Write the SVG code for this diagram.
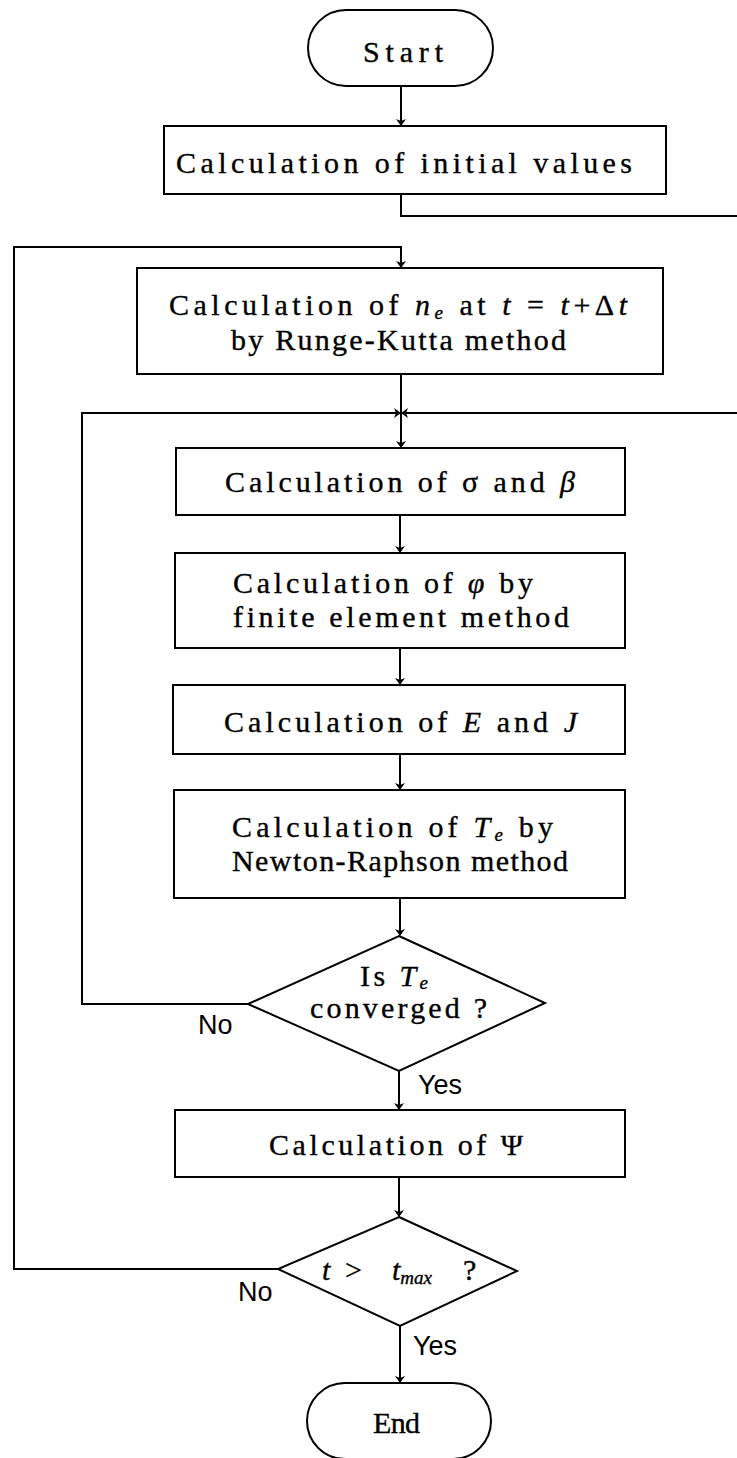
<svg xmlns="http://www.w3.org/2000/svg" width="737" height="1458" viewBox="0 0 737 1458">
<defs>
<style>
.n{fill:#fff;stroke:#000;stroke-width:2}
.c{fill:none;stroke:#000;stroke-width:2}
.t{font-family:"Liberation Serif","Times New Roman",serif;font-size:30px;fill:#000;stroke:#000;stroke-width:0.35}
.i{font-style:italic}
.s{font-style:italic;font-size:19px}
.l{font-family:"Liberation Sans",Arial,sans-serif;font-size:27px;fill:#000}
</style>
<marker id="ah" markerWidth="8" markerHeight="12" refX="6" refY="6" orient="auto" markerUnits="userSpaceOnUse" viewBox="0 0 8 12">
<path d="M0,1 L7,6 L0,11 L2,6 Z" fill="#000"/>
</marker>
</defs>
<rect width="737" height="1458" fill="#fff"/>
<g id="connectors">
<path class="c" d="M401,86 V125" marker-end="url(#ah)"/>
<path class="c" d="M401,194 V216 H737"/>
<path class="c" d="M278,1269 H14 V247 H401 V267" marker-end="url(#ah)"/>
<path class="c" d="M401,374 V413"/>
<path class="c" d="M737,413 H402" marker-end="url(#ah)"/>
<path class="c" d="M248,1004 H82 V413 H400" marker-end="url(#ah)"/>
<path class="c" d="M401,413 V447" marker-end="url(#ah)"/>
<path class="c" d="M400,515 V552" marker-end="url(#ah)"/>
<path class="c" d="M400,648 V684" marker-end="url(#ah)"/>
<path class="c" d="M400,754 V789" marker-end="url(#ah)"/>
<path class="c" d="M400,898 V935" marker-end="url(#ah)"/>
<path class="c" d="M399,1071 V1109" marker-end="url(#ah)"/>
<path class="c" d="M399,1177 V1216" marker-end="url(#ah)"/>
<path class="c" d="M400,1326 V1382" marker-end="url(#ah)"/>
</g>
<g id="start">
<rect class="n" x="308" y="10" width="185" height="76" rx="38" ry="38"/>
<text class="t" x="363" y="62" textLength="80" lengthAdjust="spacing">Start</text>
</g>
<g id="init">
<rect class="n" x="164" y="126" width="502" height="68"/>
<text class="t" x="176" y="173" textLength="456" lengthAdjust="spacing">Calculation of initial values</text>
</g>
<g id="ne">
<rect class="n" x="137" y="268" width="526" height="106"/>
<text class="t" x="169" y="315" textLength="458" lengthAdjust="spacing">Calculation of <tspan class="i">n</tspan><tspan class="s" dy="4">e</tspan><tspan dy="-4"> at </tspan><tspan class="i">t</tspan> = <tspan class="i">t</tspan>+Δ<tspan class="i">t</tspan></text>
<text class="t" x="231" y="350" textLength="335" lengthAdjust="spacing">by Runge-Kutta method</text>
</g>
<g id="sigma">
<rect class="n" x="176" y="448" width="449" height="67"/>
<text class="t" x="225" y="492" textLength="350" lengthAdjust="spacing">Calculation of σ and <tspan class="i">β</tspan></text>
</g>
<g id="phi">
<rect class="n" x="175" y="553" width="450" height="95"/>
<text class="t" x="233" y="593" textLength="300" lengthAdjust="spacing">Calculation of <tspan class="i">φ</tspan> by</text>
<text class="t" x="233" y="627" textLength="336" lengthAdjust="spacing">finite element method</text>
</g>
<g id="ej">
<rect class="n" x="173" y="685" width="452" height="69"/>
<text class="t" x="224" y="732" textLength="353" lengthAdjust="spacing">Calculation of <tspan class="i">E</tspan> and <tspan class="i">J</tspan></text>
</g>
<g id="te">
<rect class="n" x="174" y="790" width="451" height="108"/>
<text class="t" x="232" y="837" textLength="321" lengthAdjust="spacing">Calculation of <tspan class="i">T</tspan><tspan class="s" dy="4">e</tspan><tspan dy="-4"> by</tspan></text>
<text class="t" x="232" y="871" textLength="336" lengthAdjust="spacing">Newton-Raphson method</text>
</g>
<g id="conv">
<polygon class="n" points="399,936 545,1003 399,1071 248,1004"/>
<text class="t" x="360" y="986" textLength="68" lengthAdjust="spacing">Is <tspan class="i">T</tspan><tspan class="s" dy="3">e</tspan></text>
<text class="t" x="310" y="1018" textLength="177" lengthAdjust="spacing">converged ?</text>
</g>
<g id="psi">
<rect class="n" x="175" y="1110" width="450" height="67"/>
<text class="t" x="269" y="1155" textLength="254" lengthAdjust="spacing">Calculation of Ψ</text>
</g>
<g id="tmax">
<polygon class="n" points="399,1217 517,1271 400,1326 278,1269"/>
<text class="t" y="1280"><tspan class="i" x="322">t</tspan><tspan x="345">&gt;</tspan><tspan class="i" x="392">t</tspan><tspan class="s" dy="4">max</tspan><tspan x="463" dy="-4">?</tspan></text>
</g>
<g id="end">
<rect class="n" x="307" y="1383" width="184" height="76" rx="38" ry="38"/>
<text class="t" x="373" y="1433" textLength="47" lengthAdjust="spacing">End</text>
</g>
<g id="labels">
<text class="l" x="198" y="1034">No</text>
<text class="l" x="418" y="1094">Yes</text>
<text class="l" x="238" y="1301">No</text>
<text class="l" x="413" y="1355">Yes</text>
</g>
</svg>
